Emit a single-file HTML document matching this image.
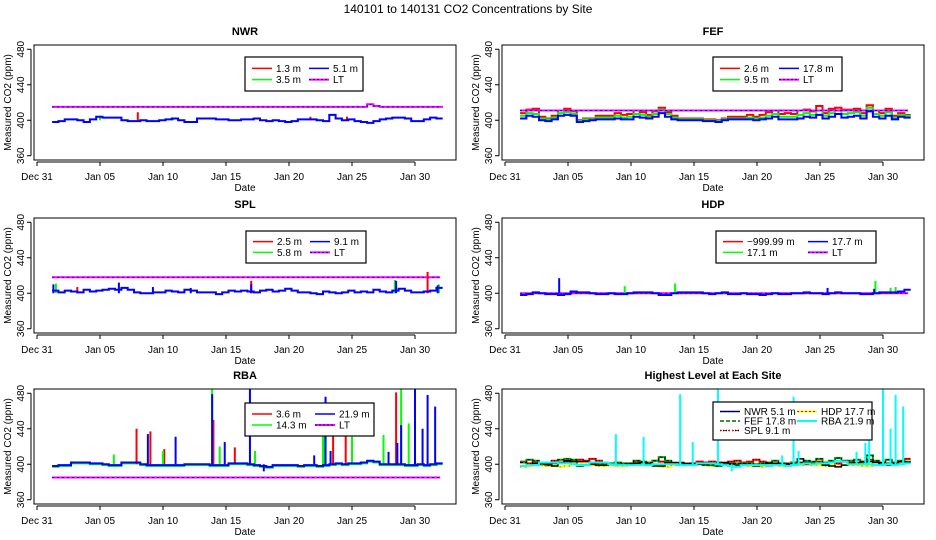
<!DOCTYPE html>
<html><head><meta charset="utf-8"><style>
html,body{margin:0;padding:0;background:#fff;}
svg{display:block;font-family:"Liberation Sans",Arial,sans-serif;}
</style></head><body>
<svg id="c" width="936" height="540" viewBox="0 0 936 540">
<rect width="936" height="540" fill="#fff"/>
<text x="468" y="13" text-anchor="middle" font-size="12">140101  to  140131 CO2 Concentrations by Site</text>
</svg>
<script>
// ---- data (half-day samples starting Jan 1.2) ----
const xTickLabels = ["Dec 31","Jan 05","Jan 10","Jan 15","Jan 20","Jan 25","Jan 30"];
const xTickDays = [0,5,10,15,20,25,30];
const yTicks = [360,400,440,480];
const nwrBlue = [398,399,401,401,400,398,401,404,403,403,403,400,399,399,400,399,399,400,401,402,400,398,398,402,402,402,401,401,400,400,401,401,402,400,399,400,399,398,399,401,401,401,400,399,406,402,400,401,399,398,397,399,401,402,403,403,402,399,399,401,403,402];
const nwrLT = [415,415,415,415,415,415,415,415,415,415,415,415,415,415,415,415,415,415,415,415,415,415,415,415,415,415,415,415,415,415,415,415,415,415,415,415,415,415,415,415,415,415,415,415,415,415,415,415,415,415,418,416,415,415,415,415,415,415,415,415,415,415];
const nwrRedSpikes = [[8.0,409],[14.8,402],[21.7,404],[24.6,404]];
const nwrGreenSpikes = [[2.5,402],[5.0,405],[10.8,403],[20.2,398]];
const fefBlue = [402,405,404,400,399,401,405,406,405,398,399,400,401,401,401,402,401,401,404,403,402,404,408,404,401,400,400,400,400,399,399,398,400,401,401,401,401,400,401,402,404,401,401,401,402,404,403,406,402,404,407,403,404,405,402,410,404,402,405,401,404,403];
const fefGreen = [405,408,407,402,401,403,408,409,407,399,401,401,403,403,403,405,403,404,407,406,404,407,412,407,403,401,401,401,401,400,400,399,401,402,402,402,403,402,403,405,407,404,404,404,406,408,406,411,405,408,411,407,408,409,405,414,407,405,409,403,406,405];
const fefRed = [408,412,413,404,402,405,411,413,410,400,402,402,405,405,405,408,406,407,411,409,406,410,414,409,405,402,402,402,402,401,401,400,402,404,404,404,406,404,406,409,411,407,408,407,411,412,410,416,408,413,414,412,412,413,408,417,411,408,413,405,408,406];
const fefLT = 411;
const splBlue = [403,401,403,402,401,404,402,403,404,405,404,406,404,401,400,400,401,401,403,402,401,404,403,401,401,401,399,401,403,402,403,402,401,403,404,402,403,405,403,401,401,400,399,402,401,400,401,403,401,402,401,404,402,401,403,405,403,401,401,402,403,406];
const splLT = 418;
const splBlueSpikes = [[1.3,410],[6.5,412],[17,410],[28.5,414],[31.8,409],[9.2,407],[12.2,406]];
const splRedSpikes = [[3.2,407],[17,414],[31,424]];
const splGreenSpikes = [[1.5,411],[28.4,415],[31.9,410]];
const hdpBlue = [398,399,401,400,399,399,398,399,402,401,401,400,399,399,400,399,399,400,401,401,401,400,398,398,400,401,401,401,401,400,399,400,401,399,399,400,399,399,398,399,400,399,399,400,400,401,400,400,399,400,401,400,400,400,399,399,400,401,401,401,402,404];
const hdpLT = 400;
const hdpBlueSpikes = [[4.3,417],[25.6,406],[29.3,405]];
const hdpGreenSpikes = [[9.5,408],[13.5,411],[29.4,414],[30.6,406],[31,407]];
const rbaBlue = [398,399,399,402,402,402,401,401,400,399,399,402,402,402,400,399,399,399,399,399,399,400,400,400,400,399,399,399,401,401,401,400,399,398,397,399,399,399,399,398,399,399,398,399,400,401,400,401,401,402,404,403,400,400,400,400,399,399,400,399,400,401];
const rbaLT = 385;
const rbaBlueSpikes = [[8.8,434],[11,431],[13.9,479],[14.9,425],[16.9,490],[18,392],[22,410],[22.9,476],[23.3,415],[27.9,414],[28.6,424],[28.9,444],[30,490],[30.6,440],[31,478],[31.6,465]];
const rbaRedSpikes = [[7.9,440],[9,437],[10.1,417],[14,450],[15.7,419],[23.5,435],[24.5,432],[28.5,481],[30,418]];
const rbaGreenSpikes = [[6.1,411],[10,415],[13.9,490],[14.5,420],[17.3,415],[22.7,435],[22.8,437],[25,431],[27.5,433],[28.9,490],[29.5,446]];

const svg = document.getElementById('c');
const NS = 'http://www.w3.org/2000/svg';
function el(tag, attrs, parent){const e=document.createElementNS(NS,tag);for(const k in attrs)e.setAttribute(k,attrs[k]);(parent||svg).appendChild(e);return e;}

function panel(ox, top, title, nm){
  const g = el('g',{});
  
  
  const H=115;
  const P={ox,top,H,g,
    X:d=>ox+37+d*12.6,
    Y:v=>top+H*(484.8-Math.min(Math.max(v,352),487))/129.6};
  const t=el('text',{x:ox+245,y:top-10,'text-anchor':'middle','font-size':11,'font-weight':'bold'},g);t.textContent=title;
  
  
  const cp=el('clipPath',{id:'cl'+nm},g);el('rect',{x:ox+34,y:top,width:422,height:H},cp);
  P.plot=el('g',{'clip-path':'url(#cl'+nm+')'},g);
  const xa=el('g',{},g);
  
  
  el('line',{x1:P.X(0),x2:P.X(30),y1:top+H+2,y2:top+H+2,stroke:'#000','stroke-width':1},xa);
  xTickDays.forEach((d,i)=>{
    el('line',{x1:P.X(d),x2:P.X(d),y1:top+H+2,y2:top+H+6,stroke:'#000'},xa);
    const tx=el('text',{x:P.X(d),y:top+H+20,'text-anchor':'middle','font-size':10},xa);tx.textContent=xTickLabels[i];
  });
  const xt=el('text',{x:ox+245,y:top+H+31,'text-anchor':'middle','font-size':10},g);xt.textContent='Date';
  
  
  const ya=el('g',{},g);
  
  
  el('line',{x1:ox+31,x2:ox+31,y1:P.Y(360),y2:P.Y(480),stroke:'#000'},ya);
  yTicks.forEach(v=>{
    el('line',{x1:ox+27,x2:ox+31,y1:P.Y(v),y2:P.Y(v),stroke:'#000'},ya);
    const tx=el('text',{x:0,y:0,'text-anchor':'middle','font-size':10,transform:`translate(${ox+24},${P.Y(v)}) rotate(-90)`},ya);tx.textContent=v;
  });
  const yt=el('text',{x:0,y:0,'text-anchor':'middle','font-size':10,transform:`translate(${ox+11},${top+H/2}) rotate(-90)`},g);yt.textContent='Measured CO2 (ppm)';
  
  
  P.box=()=>el('rect',{x:ox+34,y:top,width:422,height:H,fill:'none',stroke:'#000','stroke-width':1},g);
  return P;
}
function series(P, vals, color, w, dash, name){
  let d='';
  vals.forEach((v,i)=>{const x0=P.X(1.2+i*0.5),x1=P.X(1.7+i*0.5),y=P.Y(v);d+=(i?'L':'M')+x0.toFixed(1)+','+y.toFixed(1)+'L'+x1.toFixed(1)+','+y.toFixed(1);});
  const p=el('path',{d,fill:'none',stroke:color,'stroke-width':w},P.plot);
  if(dash)p.setAttribute('stroke-dasharray',dash);
  
  
  return p;
}
function flat(P,v,color,w,dash,name){
  const p=el('line',{x1:P.X(1.2),x2:P.X(32),y1:P.Y(v),y2:P.Y(v),stroke:color,'stroke-width':w},P.plot);
  if(dash)p.setAttribute('stroke-dasharray',dash);
  
  
}
function spikes(P, arr, color, name){
  arr.forEach(s=>{
    const l=el('line',{x1:P.X(s[0]),x2:P.X(s[0]),y1:P.Y(400),y2:P.Y(s[1]),stroke:color,'stroke-width':2},P.plot);
    
    
  });
}
function lt(P,vals,name){
  if(Array.isArray(vals)){series(P,vals,'#ff00ff',2,null,name);series(P,vals,'#0000ff',1,'2,3',name+'-dots');}
  else{flat(P,vals,'#ff00ff',2,null,name);flat(P,vals,'#0000ff',1,'2,3',name+'-dots');}
}
function legend(P,x,y,w,h,items,colX,nm){
  const g=el('g',{},P.g);
  
  
  el('rect',{x,y,width:w,height:h,fill:'#fff',stroke:'#000','stroke-width':1.2},g);
  items.forEach((it,i)=>{
    const c=Math.floor(i/it.rows), r=i%it.rows;
    const lx=x+colX[c], ly=y+(h/(it.rows+1))*(r+1);
    const ln=el('line',{x1:lx,x2:lx+20,y1:ly,y2:ly,stroke:it.c,'stroke-width':it.w||1.5},g);
    if(it.d)ln.setAttribute('stroke-dasharray',it.d);
    if(it.c2){el('line',{x1:lx,x2:lx+20,y1:ly,y2:ly,stroke:it.c2,'stroke-width':1,'stroke-dasharray':'2,2'},g);}
    const tx=el('text',{x:lx+24,y:ly+3.5,'font-size':10},g);tx.textContent=it.t;
    
    
  });
}

// NWR
let P=panel(0,45,'NWR','nwr');
lt(P,nwrLT,'nwr-lt-line');
spikes(P,nwrGreenSpikes,'#00ff00','nwr-3.5m-spike');
spikes(P,nwrRedSpikes,'#ff0000','nwr-1.3m-spike');
series(P,nwrBlue,'#0000ff',2,null,'nwr-5.1m-line');
P.box();
legend(P,245,57,118,34,[{t:'1.3 m',c:'#ff0000',rows:2},{t:'3.5 m',c:'#00ff00',rows:2},{t:'5.1 m',c:'#0000ff',rows:2},{t:'LT',c:'#ff00ff',c2:'#0000ff',w:2,rows:2}],[7,64],'nwr');

// FEF
P=panel(468,45,'FEF','fef');
series(P,fefRed,'#ff0000',2,null,'fef-2.6m-line');
series(P,fefGreen,'#00ff00',2,null,'fef-9.5m-line');
lt(P,fefLT,'fef-lt-line');
series(P,fefBlue,'#0000ff',2,null,'fef-17.8m-line');
P.box();
legend(P,713,57,129,34,[{t:'2.6 m',c:'#ff0000',rows:2},{t:'9.5 m',c:'#00ff00',rows:2},{t:'17.8 m',c:'#0000ff',rows:2},{t:'LT',c:'#ff00ff',c2:'#0000ff',w:2,rows:2}],[7,66],'fef');

// SPL
P=panel(0,218,'SPL','spl');
lt(P,splLT,'spl-lt-line');
spikes(P,splRedSpikes,'#ff0000','spl-2.5m-spike');
spikes(P,splGreenSpikes,'#00ff00','spl-5.8m-spike');
spikes(P,splBlueSpikes,'#0000ff','spl-9.1m-spike');
series(P,splBlue,'#0000ff',2,null,'spl-9.1m-line');
P.box();
legend(P,246,231,120,32,[{t:'2.5 m',c:'#ff0000',rows:2},{t:'5.8 m',c:'#00ff00',rows:2},{t:'9.1 m',c:'#0000ff',rows:2},{t:'LT',c:'#ff00ff',c2:'#0000ff',w:2,rows:2}],[7,64],'spl');

// HDP
P=panel(468,218,'HDP','hdp');
lt(P,hdpLT,'hdp-lt-line');
spikes(P,hdpGreenSpikes,'#00ff00','hdp-17.1m-spike');
spikes(P,hdpBlueSpikes,'#0000ff','hdp-17.7m-spike');
series(P,hdpBlue,'#0000ff',2,null,'hdp-17.7m-line');
P.box();
legend(P,716,231,160,32,[{t:'\u2212999.99 m',c:'#ff0000',rows:2},{t:'17.1 m',c:'#00ff00',rows:2},{t:'17.7 m',c:'#0000ff',rows:2},{t:'LT',c:'#ff00ff',c2:'#0000ff',w:2,rows:2}],[7,92],'hdp');

// RBA
P=panel(0,389,'RBA','rba');
lt(P,rbaLT,'rba-lt-line');
series(P,rbaBlue.map(v=>v-1),'#00ff00',2,null,'rba-14.3m-line');
spikes(P,rbaRedSpikes,'#ff0000','rba-3.6m-spike');
spikes(P,rbaGreenSpikes,'#00ff00','rba-14.3m-spike');
spikes(P,rbaBlueSpikes,'#0000ff','rba-21.9m-spike');
series(P,rbaBlue,'#0000ff',2,null,'rba-21.9m-line');
P.box();
legend(P,245,403,129,33,[{t:'3.6 m',c:'#ff0000',rows:2},{t:'14.3 m',c:'#00ff00',rows:2},{t:'21.9 m',c:'#0000ff',rows:2},{t:'LT',c:'#ff00ff',c2:'#0000ff',w:2,rows:2}],[7,70],'rba');

// Highest
P=panel(468,389,'Highest Level at Each Site','highest');
series(P,hdpBlue.map(v=>v-1),'#ffff00',2,null,'hdp-highest-line');
series(P,hdpBlue.map(v=>v-1),'#ff0000',1,'1,4','hdp-highest-dots');
series(P,splBlue,'#ff0000',2,null,'spl-highest-line');
series(P,splBlue,'#000000',1,'1,2','spl-highest-dots');
series(P,fefBlue,'#00aa00',2,null,'fef-highest-line');
series(P,fefBlue,'#000000',1,'3,2','fef-highest-dash');
series(P,nwrBlue,'#000000',1.5,null,'nwr-highest-line');
spikes(P,rbaBlueSpikes,'#00ffff','rba-highest-spike');
series(P,rbaBlue,'#00ffff',2,null,'rba-highest-line');
P.box();
legend(P,713,402,159,38,[{t:'NWR  5.1 m',c:'#000080',c2:'#000000',rows:3},{t:'FEF  17.8 m',c:'#006600',d:'4,2',rows:3},{t:'SPL  9.1 m',c:'#000000',d:'1,2',c2:'#ff0000',rows:3},{t:'HDP  17.7 m',c:'#ffff00',c2:'#ff0000',w:2,rows:3},{t:'RBA  21.9 m',c:'#00ffff',w:2,rows:3}],[7,84],'highest');
</script>
</body></html>
